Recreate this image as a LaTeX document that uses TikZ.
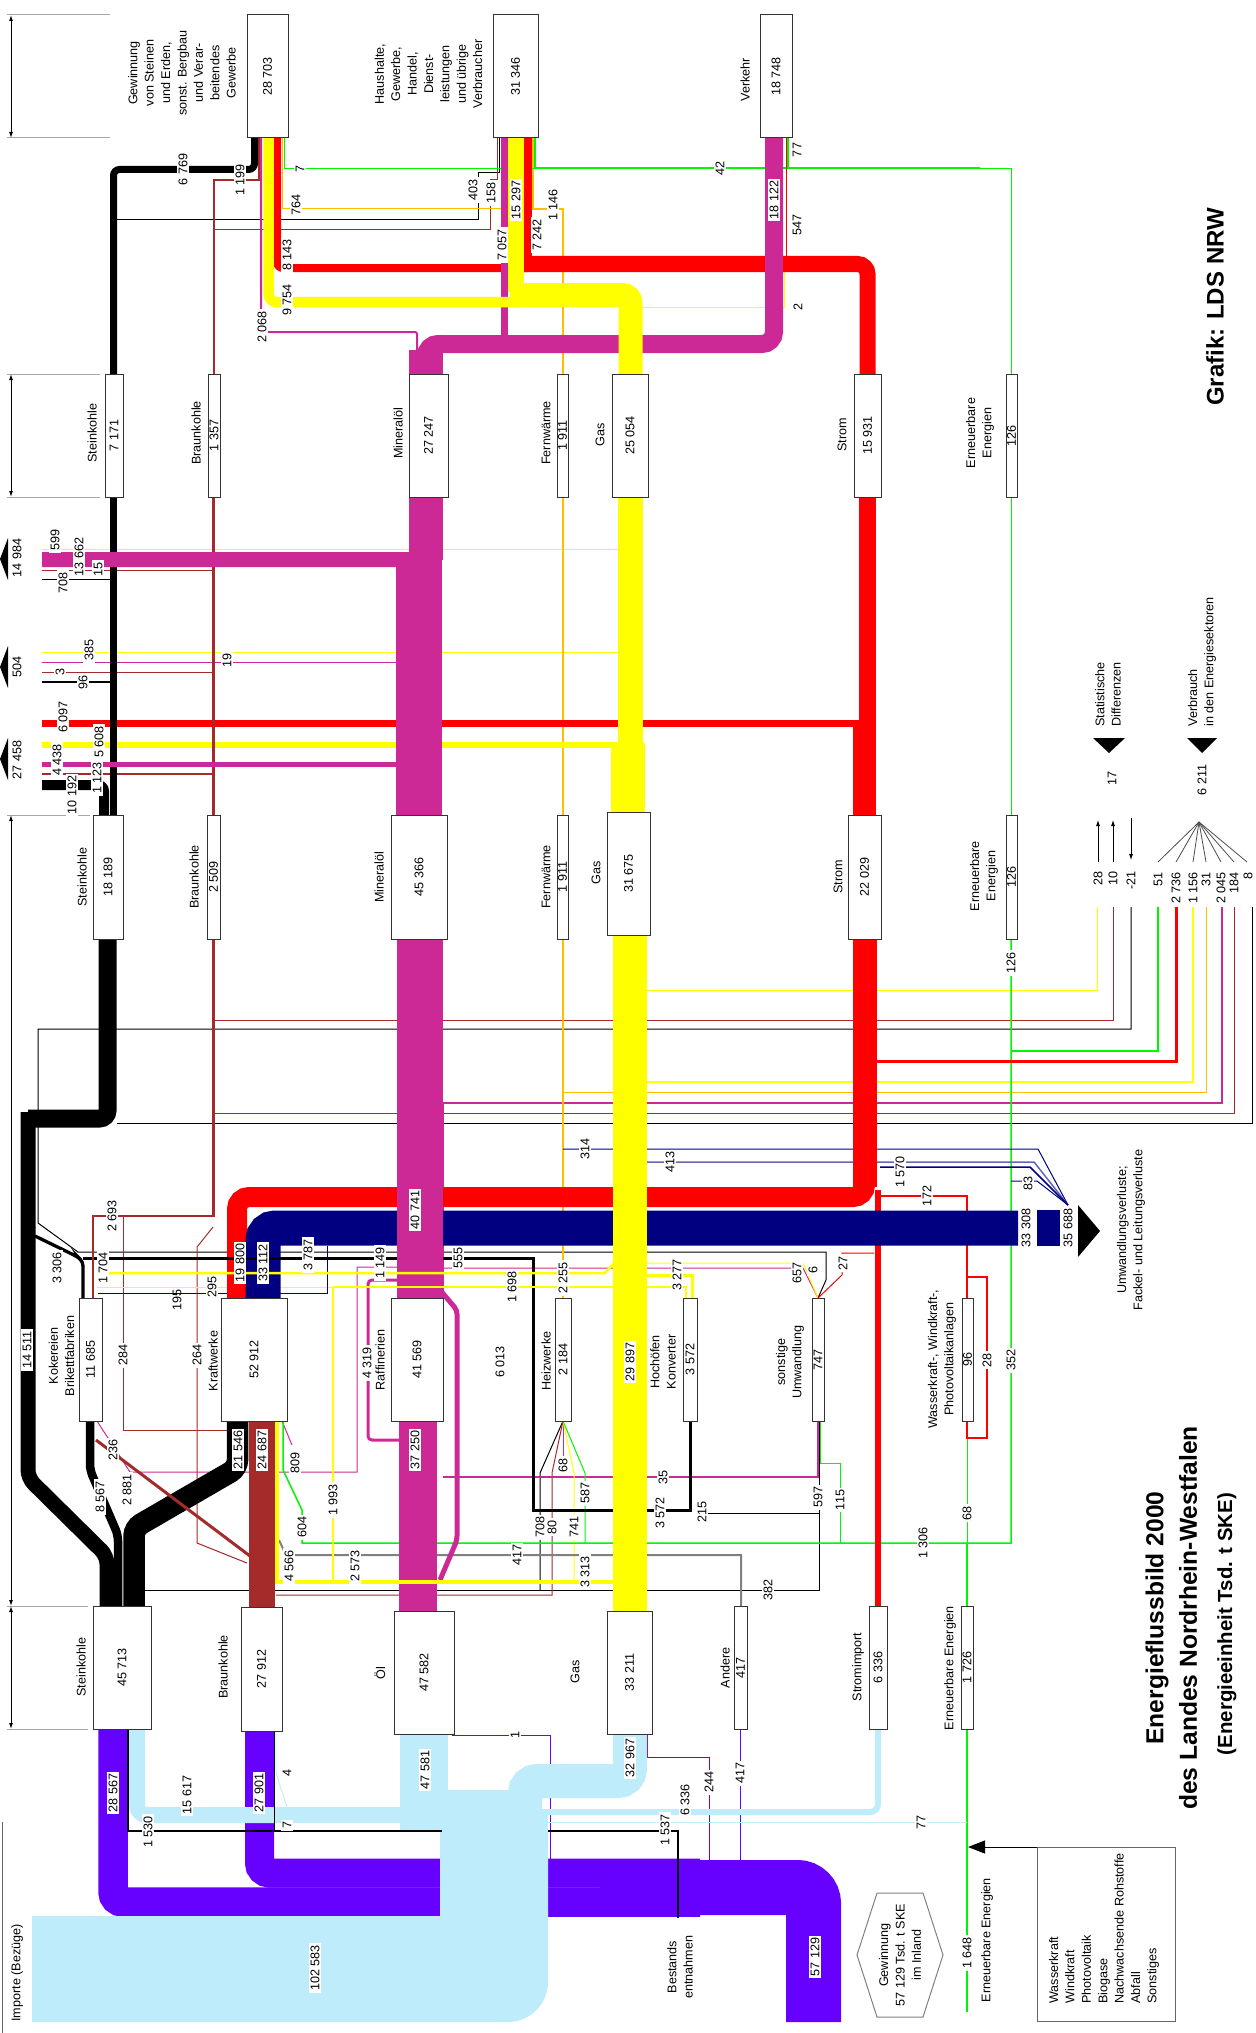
\documentclass[tikz,border=0pt]{standalone}
\usepackage{graphicx}
\usepackage{fontspec}
\setmainfont{Liberation Sans}
\usetikzlibrary{arrows.meta}

\definecolor{ckohle}{RGB}{0,0,0}
\definecolor{cbraun}{RGB}{165,42,42}
\definecolor{coel}{RGB}{204,41,150}
\definecolor{cgas}{RGB}{255,255,0}
\definecolor{cstrom}{RGB}{255,0,0}
\definecolor{cfw}{RGB}{255,190,0}
\definecolor{cee}{RGB}{0,245,0}
\definecolor{cverl}{RGB}{0,0,128}
\definecolor{cgew}{RGB}{102,0,255}
\definecolor{cimp}{RGB}{190,236,250}
\definecolor{candere}{RGB}{128,128,128}

\newcommand\lfont{\fontsize{6.3}{8.2}\selectfont}

\tikzset{
  wd/.style={line width=#1*0.5pt},
  kohle/.style={draw=ckohle},
  braun/.style={draw=cbraun},
  oel/.style={draw=coel},
  gas/.style={draw=cgas},
  strom/.style={draw=cstrom},
  fw/.style={draw=cfw},
  ee/.style={draw=cee},
  verl/.style={draw=cverl},
  gew/.style={draw=cgew},
  imp/.style={draw=cimp},
  andere/.style={draw=candere},
  dim/.style={draw=black!35, line width=0.5pt},
  box/.style 2 args={draw=black!80, fill=white, line width=0.5pt,
    minimum width=#1*0.5pt, minimum height=#2*0.5pt, inner sep=0pt, font=\lfont},
  lab/.style={rotate=90, inner sep=0.5pt, font=\lfont},
  val/.style={lab, fill=white, inner sep=1pt},
}

\begin{document}
\begin{tikzpicture}[x=0.5pt, y=-0.5pt, >={Latex[length=3pt,width=2pt]}]
\useasboundingbox (0,0) rectangle (1255,2033);

% duenne Linien
\draw[kohle, wd=1] (42,579) -- (113,579);
\draw[kohle, wd=2] (42,682) -- (113,682);
\draw[kohle, wd=1] (499,138) |- (478,173) |- (117,220);
\draw[kohle, wd=1] (1131,907) |- (38,1029) -- (38,1223) -- (78,1252) -- (826,1252) -- (826,1280) -- (818,1298);
\draw[kohle, wd=1] (1252,907) |- (117,1123);
\draw[kohle, wd=1] (697,1513) -- (819,1513);
\draw[kohle, wd=1] (145,1590) -- (819,1590) -- (819,1421);
\draw[kohle, wd=1] (563,1421) -- (540,1473) -- (540,1590);
\draw[braun, wd=1.5] (214,374) |- (259,180) -- (259,138);
\draw[braun, wd=1] (215,230) -- (490,230) |- (497,180) -- (497,138);
\draw[braun, wd=1] (42,570) -- (213,570);
\draw[braun, wd=1] (42,672) -- (213,672);
\draw[braun, wd=1.5] (42,774) -- (213,774);
\draw[braun, wd=1] (1113,907) |- (213,1020);
\draw[braun, wd=1] (1234,907) |- (213,1113);
\draw[braun, wd=1] (123,1216) |- (227,1430) -- (227,1421);
\draw[braun, wd=1] (213,1227) -- (197,1247) -- (197,1543) -- (247,1563);
\draw[braun, wd=1] (563,1421) -- (552,1473) |- (276,1595);
\draw[oel, wd=1] (42,662) -- (400,662);
\draw[oel, wd=1.5] (1222,907) |- (443,1103) -- (443,1298);
\draw[oel, wd=1] (97,1421) -- (130,1472) -- (357,1472) |- (397,1267);
\draw[oel, wd=1] (282,1421) -- (292,1445);
\draw[oel, wd=1.2] (443,1477) -| (818,1421);
\draw[oel, wd=1] (443,1268) -- (803,1268) -- (818,1298);
\draw[oel, wd=1] (563,1421) -- (563,1473);
\draw[gas, wd=1] (42,549) -- (618,549);
\draw[gas, wd=1] (42,652) -- (618,652);
\draw[gas, wd=1] (784,258) |- (643,307);
\draw[gas, wd=1] (1097,907) |- (647,990);
\draw[gas, wd=1.2] (1193,907) |- (647,1082);
\draw[gas, wd=1] (97,1287) -- (333,1287);
\draw[gas, wd=1] (647,1263) -- (803,1263) -- (818,1298);
\draw[gas, wd=1] (563,1421) -- (574,1473) -- (574,1582);
\draw[fw, wd=1] (282,138) |- (533,209);
\draw[fw, wd=1.2] (533,138) |- (563,209) -- (563,374);
\draw[fw, wd=1.5] (563,815) -- (563,497);
\draw[fw, wd=1.5] (563,939) -- (563,1298);
\draw[fw, wd=1] (1206,907) |- (563,1092);
\draw[ee, wd=1] (284,138) |- (535,168.5);
\draw[ee, wd=2] (535,138) |- (980,168.5);
\draw[ee, wd=1.5] (788,138) -- (788,168);
\draw[ee, wd=1] (980,168.5) -| (1011,374);
\draw[ee, wd=1] (1011,815) -- (1011,497);
\draw[ee, wd=1.5] (1011,939) |- (302,1543) -- (302,1510) -- (283,1470) -- (283,1421);
\draw[ee, wd=1.5] (1158,907) |- (1011,1051);
\draw[ee, wd=1] (967,1421) -- (967,1543);
\draw[ee, wd=2] (967,1606) -- (967,1543);
\draw[ee, wd=2] (967,1729) -- (967,2012);
\draw[ee, wd=1] (820,1421) |- (840,1463) -- (840,1543);
\draw[ee, wd=1] (563,1421) -- (585,1473) -- (585,1543);
\draw[verl, wd=1] (563,1149) -- (1038,1149) -- (1068,1205);
\draw[draw=cverl!60, wd=1.5] (647,1162) -- (1034,1162) -- (1068,1205);
\draw[verl, wd=1.5] (880,1167) -- (1030,1167) -- (1068,1205);
\draw[verl, wd=1] (1011,1181) -- (1037,1181) -- (1068,1205);
\draw[verl, wd=1] (98,1293) -| (327,1246);
\draw[andere, wd=2] (279,1540) -- (286,1555) -| (741,1606);
\draw[gew, wd=1.2] (740.5,1729) -- (740.5,1860);
\draw[gew, wd=1] (647,1734) |- (709,1757) -- (709,1860);
\draw[gew, wd=1] (452,1735) -| (550,1860);
\draw[imp, wd=1] (548,1822) -- (967,1822);
\draw[imp, wd=0.8] (276,1731) -- (276,1773) -- (287,1807);
\draw[strom, wd=1] (786,138) -- (786,258);
\draw[strom, wd=3] (1176,907) |- (877,1061);
\draw[strom, wd=1.2] (880,1196) -| (967,1298);
\draw[strom, wd=1.2] (967,1277) -| (987,1438) -| (967,1421);
\draw[strom, wd=1] (818,1298) -- (842,1275) |- (874,1253);

% Gewinnung und Importe
\draw[gew, wd=29.5, rounded corners=5pt] (113,1729) |- (700,1902);
\draw[gew, wd=29, rounded corners=5pt] (259.5,1731) |- (700,1873);
\draw[gew, wd=55, rounded corners=8pt] (600,1887.5) -| (813.5,2022);
\draw[imp, wd=16, rounded corners=5pt] (137,1729) |- (430,1815);
\fill[cimp] (400,1734) rectangle (448,1830);
\draw[imp, wd=34, rounded corners=6pt] (630,1734) |- (525,1781) -- (525,1870);
\fill[cimp] (440,1790) rectangle (520,1930);
\fill[cimp] (32,1916) rectangle (500,2022);
\fill[cimp, rounded corners=20pt] (460,1809) rectangle (548,2022);
\fill[cimp] (500,1809) rectangle (548,1880);
\draw[imp, wd=6, rounded corners=4pt] (878,1729) |- (540,1812);

% Strom
\draw[strom, wd=8, rounded corners=3pt] (277,138) |- (528,268);
\draw[strom, wd=8] (528,138) -- (528,264);
\draw[strom, wd=16, rounded corners=5pt] (520,264) -| (867.5,374);
\draw[strom, wd=17] (867.5,815) -- (867.5,497);
\draw[strom, wd=7] (42,723.5) -- (860,723.5);
\draw[strom, wd=23] (864.5,727) -- (864.5,815);
\draw[strom, wd=20, rounded corners=6pt] (237,1298) |- (865,1197) -- (865,939);
\draw[strom, wd=24] (865,939) -- (865,1187);
\draw[strom, wd=6] (878,1190) -- (878,1606);
\draw[gas, wd=5.6] (42,745) -- (620,745);

% Verluste
\draw[verl, wd=35, rounded corners=6pt] (263,1298) |- (1018,1228);
\fill[cverl] (1037,1210) rectangle (1060,1246);
\fill (1078,1205) -- (1100,1231) -- (1078,1257) -- cycle;

% Kohle
\draw[kohle, wd=7, rounded corners=3pt] (113.5,374) |- (254.5,169.5) -- (254.5,138);
\draw[kohle, wd=7] (113.5,815) -- (113.5,497);
\draw[kohle, wd=10, rounded corners=3pt] (42,785) -| (104,815);
\draw[kohle, wd=18, rounded corners=4pt] (107.5,939) |- (28,1118.5);
\draw[kohle, wd=15, rounded corners=4pt] (28,1112) -- (28,1478) -- (107,1556) -- (107,1606);
\draw[kohle, wd=3.3, rounded corners=2pt] (35,1236) -- (78,1257) -- (83,1262) -- (83,1298);
\draw[kohle, wd=3] (83,1258) -- (533,1258) |- (690,1510) -- (690,1421);
\draw[kohle, wd=8.5, rounded corners=3pt] (90,1421) -- (90,1470) -- (118,1535) -- (118,1606);
\draw[kohle, wd=21.5, rounded corners=4pt] (237.5,1421) -- (237.5,1468) -- (134,1528) -- (134,1606);
\draw[kohle, wd=1.5] (128,1729) |- (442,1831);
\draw[kohle, wd=1.5] (548,1831) -| (678,1918);
\draw[kohle, wd=1] (274,1731) -- (274,1831);

% Braunkohle
\draw[braun, wd=2.5] (213.5,815) -- (213.5,497);
\draw[braun, wd=2.7] (213.5,939) |- (93,1216) -- (93,1298);
\draw[braun, wd=26] (262,1421) -- (262,1607);
\draw[braun, wd=3] (96,1440) -- (250,1556);

% Mineraloel
\fill[coel] (409,497) rectangle (443,560);
\draw[oel, wd=15, rounded corners=4pt] (42,559.5) -| (415,600);
\fill[coel] (396,560) rectangle (442,815);
\fill[coel] (42,762) rectangle (400,767);
\fill[coel] (409,350) rectangle (443,374);
\draw[oel, wd=18, rounded corners=6pt] (426,374) |- (774,344) -- (774,138);
\draw[oel, wd=7] (504.5,138) -- (504.5,344);
\draw[oel, wd=2, rounded corners=1pt] (261,138) |- (417,332) -- (417,350);
\fill[coel] (397,939) rectangle (443,1298);
\fill[coel] (399,1421) rectangle (437,1611);
\draw[oel, wd=3, rounded corners=2pt] (397,1280) -| (368,1440) -- (399,1440);
\draw[oel, wd=5, rounded corners=2pt] (440,1290) -- (457,1310) -- (457,1540) -- (440,1580);

% Gas
\draw[gas, wd=10.5, rounded corners=4pt] (268.5,138) |- (520,302);
\draw[gas, wd=16] (516,138) -- (516,292);
\draw[gas, wd=24, rounded corners=4pt] (510,295) -| (630.5,374);
\draw[gas, wd=25] (630.5,497) -- (630.5,750);
\draw[gas, wd=34] (628,743) -- (628,812);
\draw[gas, wd=34] (630,935) -- (630,1611);
\draw[gas, wd=2.5] (97,1273) -- (605,1273) -- (615,1262);
\draw[gas, wd=2.5] (333,1287) -- (686,1287) -- (686,1298);
\draw[gas, wd=3] (647,1275) -| (692,1298);
\draw[gas, wd=2] (333,1287) -- (333,1582);
\draw[gas, wd=4.5] (277,1421) |- (615,1582);

% Exporte, Statistik
\fill (0,559) -- (8,538) -- (8,580) -- cycle;
\fill (0,667) -- (8,646) -- (8,688) -- cycle;
\fill (0,759) -- (8,738) -- (8,780) -- cycle;
\fill (1093,738) -- (1125,738) -- (1109,753) -- cycle;
\fill (1187,738) -- (1217,738) -- (1202,753) -- cycle;
\draw[->, wd=0.8] (1098,862) -- (1098,820);
\draw[->, wd=0.8] (1113,862) -- (1113,820);
\draw[->, wd=0.8] (1131,818) -- (1131,860);
\draw[black!70, wd=0.8] (1199,822) -- (1158,862);
\draw[black!70, wd=0.8] (1199,822) -- (1176,862);
\draw[black!70, wd=0.8] (1199,822) -- (1193,862);
\draw[black!70, wd=0.8] (1199,822) -- (1206,862);
\draw[black!70, wd=0.8] (1199,822) -- (1221,862);
\draw[black!70, wd=0.8] (1199,822) -- (1234,862);
\draw[black!70, wd=0.8] (1199,822) -- (1247,862);

% Massstab links
\draw[dim] (7,15) -- (110,15);
\draw[dim] (7,138) -- (110,138);
\draw[dim] (7,374) -- (100,374);
\draw[dim] (7,497) -- (100,497);
\draw[dim] (7,815) -- (90,815);
\draw[dim] (7,1606) -- (88,1606);
\draw[dim] (7,1729) -- (88,1729);
\draw[<->, wd=1] (11,15) -- (11,138);
\draw[<->, wd=1] (11,374) -- (11,497);
\draw[<->, wd=1] (11,815) -- (11,1606);
\draw[<->, wd=1] (11,1606) -- (11,1729);
\draw[black!60, wd=1] (2,1822) -- (2,2033);

% Legende
\draw[black!50, wd=1] (857,1955) -- (877,1893) -- (923,1893) -- (943,1955) -- (923,2017) -- (877,2017) -- cycle;
\draw[black!60, wd=1] (1037,1847) rectangle (1175,2021);
\draw[-{Triangle[length=8.5pt,width=6.5pt]}, wd=1] (1037,1847) -- (968,1847);

% Bilanzkaesten
\node[box={41}{123}] (ind) at (267.5,76.5) {\rotatebox{90}{28 703}};
\node[box={45}{123}] (hh) at (515.5,76.5) {\rotatebox{90}{31 346}};
\node[box={32}{123}] (ver) at (776,76.5) {\rotatebox{90}{18 748}};
\node[box={18}{123}] (st1) at (114,435.5) {\rotatebox{90}{7 171}};
\node[box={12}{123}] (bk1) at (214,435.5) {\rotatebox{90}{1 357}};
\node[box={39}{123}] (mo1) at (428.5,435.5) {\rotatebox{90}{27 247}};
\node[box={11}{123}] (fw1) at (562.5,435.5) {\rotatebox{90}{1 911}};
\node[box={36}{123}] (gas1) at (630,435.5) {\rotatebox{90}{25 054}};
\node[box={27}{123}] (str1) at (867.5,435.5) {\rotatebox{90}{15 931}};
\node[box={11}{123}] (ee1) at (1011.5,435.5) {\rotatebox{90}{126}};
\node[box={30}{124}] (st2) at (108,877) {\rotatebox{90}{18 189}};
\node[box={13}{124}] (bk2) at (213.5,877) {\rotatebox{90}{2 509}};
\node[box={56}{124}] (mo2) at (419,877) {\rotatebox{90}{45 366}};
\node[box={11}{124}] (fw2) at (562.5,877) {\rotatebox{90}{1 911}};
\node[box={43}{123}] (gas2) at (628.5,873.5) {\rotatebox{90}{31 675}};
\node[box={33}{124}] (str2) at (864.5,877) {\rotatebox{90}{22 029}};
\node[box={11}{124}] (ee2) at (1011.5,877) {\rotatebox{90}{126}};
\node[box={23}{123}] (kok) at (90.5,1359.5) {\rotatebox{90}{11 685}};
\node[box={66}{123}] (kw) at (254,1359.5) {\rotatebox{90}{52 912}};
\node[box={52}{123}] (raf) at (417,1359.5) {\rotatebox{90}{41 569}};
\node[box={16}{123}] (hzw) at (563,1359.5) {\rotatebox{90}{2 184}};
\node[box={14}{123}] (hoch) at (690,1359.5) {\rotatebox{90}{3 572}};
\node[box={12}{123}] (sonst) at (818,1359.5) {\rotatebox{90}{747}};
\node[box={11}{123}] (wkw) at (967.5,1359.5) {\rotatebox{90}{96}};
\node[box={58}{123}] (st3) at (122,1667.5) {\rotatebox{90}{45 713}};
\node[box={41}{124}] (bk3) at (261.5,1669) {\rotatebox{90}{27 912}};
\node[box={60}{123}] (oel3) at (424,1672.5) {\rotatebox{90}{47 582}};
\node[box={45}{123}] (gas3) at (629.5,1672.5) {\rotatebox{90}{33 211}};
\node[box={13}{123}] (and3) at (740.5,1667.5) {\rotatebox{90}{417}};
\node[box={18}{123}] (simp) at (878,1667.5) {\rotatebox{90}{6 336}};
\node[box={12}{123}] (ee3) at (967,1667.5) {\rotatebox{90}{1 726}};

% Beschriftung der Kaesten
\node[lab, align=center] (tInd) at (182,73) {Gewinnung\\von Steinen\\und Erden,\\sonst. Bergbau\\und Verar-\\beitendes\\Gewerbe};
\node[lab, align=center] (tHh) at (428.5,74) {Haushalte,\\Gewerbe,\\Handel,\\Dienst-\\leistungen\\und übrige\\Verbraucher};
\node[lab] (tVer) at (745,80) {Verkehr};
\node[lab] (tSt1) at (92,433) {Steinkohle};
\node[lab] (tBk1) at (196,433) {Braunkohle};
\node[lab] (tMo1) at (398,433) {Mineralöl};
\node[lab] (tFw1) at (546,433) {Fernwärme};
\node[lab] (tGas1) at (600,435) {Gas};
\node[lab] (tStr1) at (842,435) {Strom};
\node[lab, align=center] (tEe1) at (980,433) {Erneuerbare\\Energien};
\node[lab] (tSt2) at (82,877) {Steinkohle};
\node[lab] (tBk2) at (194,877) {Braunkohle};
\node[lab] (tMo2) at (379,877) {Mineralöl};
\node[lab] (tFw2) at (546,877) {Fernwärme};
\node[lab] (tGas2) at (596,873) {Gas};
\node[lab] (tStr2) at (838,877) {Strom};
\node[lab, align=center] (tEe2) at (984,876) {Erneuerbare\\Energien};
\node[lab, align=center] (tKok) at (61.5,1356) {Kokereien\\Brikettfabriken};
\node[lab] (tKw) at (213,1361) {Kraftwerke};
\node[lab] (tRaf) at (380,1360) {Raffinerien};
\node[lab] (tHzw) at (546,1361) {Heizwerke};
\node[lab, align=center] (tHoch) at (663,1362) {Hochöfen\\Konverter};
\node[lab, align=center] (tSonst) at (790,1362) {sonstige\\Umwandlung};
\node[lab, align=center] (tWkw) at (942,1359) {Wasserkraft-, Windkraft-,\\Photovoltaikanlagen};
\node[lab] (tSt3) at (81,1667) {Steinkohle};
\node[lab] (tBk3) at (223,1667) {Braunkohle};
\node[lab] (tOel3) at (380,1673) {Öl};
\node[lab] (tGas3) at (575,1672) {Gas};
\node[lab] (tAnd3) at (725,1668) {Andere};
\node[lab] (tSimp) at (858,1667) {Stromimport};
\node[lab] (tEe3) at (950,1668) {Erneuerbare Energien};
\node[lab, anchor=west, align=left] (tStat) at (1108,728) {Statistische\\Differenzen};
\node[lab, anchor=west, align=left] (tVerb) at (1202,728) {Verbrauch\\in den Energiesektoren};
\node[lab, align=center] (tVerl) at (1131,1230) {Umwandlungsverluste;\\Fackel- und Leitungsverluste};
\node[lab] (tImp) at (17,1973) {Importe (Bezüge)};
\node[lab, align=center] (tBest) at (680,1967) {Bestands\\entnahmen};
\node[lab] (tEe4) at (987,1940) {Erneuerbare Energien};
\node[lab, align=center] (tGew) at (900,1955) {Gewinnung\\57 129 Tsd. t SKE\\im Inland};
\node[lab, anchor=west, align=left] (tListe) at (1104,2005) {Wasserkraft\\Windkraft\\Photovoltaik\\Biogase\\Nachwachsende Rohstoffe\\Abfall\\Sonstiges};
\node[rotate=90, font=\fontsize{12.3}{14}\selectfont\bfseries] (title1) at (1157,1618) {Energieflussbild 2000};
\node[rotate=90, font=\fontsize{12.3}{14}\selectfont\bfseries] (title2) at (1188,1618) {des Landes Nordrhein-Westfalen};
\node[rotate=90, font=\fontsize{10.2}{12}\selectfont\bfseries] (title3) at (1227,1624) {(Energieeinheit Tsd. t SKE)};
\node[rotate=90, font=\fontsize{12}{14}\selectfont\bfseries] (grafik) at (1215,307) {Grafik: LDS NRW};

% Werte oben
\node[val] (l6769) at (183,169.5) {6 769};
\node[val] (l1199) at (240,180) {1 199};
\node[val] (l7a) at (300,168.5) {7};
\node[val] (l764) at (296,205) {764};
\node[val] (l8143) at (287,255) {8 143};
\node[val] (l9754) at (287,300) {9 754};
\node[val] (l2068) at (262,327) {2 068};
\node[val] (l403) at (473,190) {403};
\node[val] (l158) at (491,193) {158};
\node[val] (l15297) at (516,200) {15 297};
\node[val] (l7057) at (502,245) {7 057};
\node[val] (l7242) at (537,235) {7 242};
\node[val] (l1146) at (553,205) {1 146};
\node[val] (l42) at (720,168.5) {42};
\node[val] (l18122) at (774,200) {18 122};
\node[val] (l77a) at (797,150) {77};
\node[val] (l547) at (797,225) {547};
\node[val] (l2) at (798,307) {2};

% Exporte
\node[lab] (e14984) at (17,558) {14 984};
\node[lab] (e504) at (17,667) {504};
\node[lab] (e27458) at (17,760) {27 458};
\node[val] (l599) at (55,540) {599};
\node[val] (l708a) at (63,583) {708};
\node[val] (l13662) at (79,557) {13 662};
\node[val] (l15) at (98,569) {15};
\node[val] (l385) at (89,650) {385};
\node[val] (l19) at (227,660) {19};
\node[val] (l3) at (60,672) {3};
\node[val] (l96) at (83,682) {96};
\node[val] (l6097) at (63,717) {6 097};
\node[val] (l5608) at (99,742) {5 608};
\node[val] (l4438) at (57,760) {4 438};
\node[val] (l1123) at (97,778) {1 123};
\node[val] (l10192) at (72,795) {10 192};

% Statistik
\node[val] (l126) at (1011,963) {126};
\node[lab] (s17) at (1112,778) {17};
\node[lab] (s6211) at (1202,780) {6 211};
\node[lab, anchor=east] (s28) at (1098,870) {28};
\node[lab, anchor=east] (s10) at (1113,870) {10};
\node[lab, anchor=east] (s21) at (1131,870) {-21};
\node[lab, anchor=east] (s51) at (1158,871) {51};
\node[lab, anchor=east] (s2736) at (1176,871) {2 736};
\node[lab, anchor=east] (s1156) at (1193,871) {1 156};
\node[lab, anchor=east] (s31) at (1206,871) {31};
\node[lab, anchor=east] (s2045) at (1221,871) {2 045};
\node[lab, anchor=east] (s184) at (1234,871) {184};
\node[lab, anchor=east] (s8) at (1248,871) {8};

% Werte Umwandlung
\node[val] (l14511) at (27,1350) {14 511};
\node[val] (l3306) at (57,1268) {3 306};
\node[val] (l1704) at (103,1268) {1 704};
\node[val] (l2693) at (112,1216) {2 693};
\node[val] (l19800) at (240,1263) {19 800};
\node[val] (l33112) at (263,1263) {33 112};
\node[val] (l3787) at (308,1255) {3 787};
\node[val] (l1149) at (380,1263) {1 149};
\node[val] (l295) at (212,1287) {295};
\node[lab] (l195) at (177,1300) {195};
\node[val] (l284) at (123,1355) {284};
\node[val] (l264) at (197,1355) {264};
\node[val] (l4319) at (367,1363) {4 319};
\node[val] (l40741) at (415,1210) {40 741};
\node[val] (l555) at (458,1258) {555};
\node[val] (l1698) at (512,1287) {1 698};
\node[val] (l2255) at (563,1278) {2 255};
\node[val] (l3277) at (677,1275) {3 277};
\node[lab] (l6013) at (500,1362) {6 013};
\node[val] (l29897) at (630,1362) {29 897};
\node[val] (l314) at (585,1149) {314};
\node[val] (l413) at (670,1162) {413};
\node[val] (l1570) at (900,1172) {1 570};
\node[val] (l172) at (927,1196) {172};
\node[val] (l83) at (1028,1183) {83};
\node[val] (l33308) at (1026,1228) {33 308};
\node[val] (l35688) at (1068,1228) {35 688};
\node[val] (l657) at (797,1273) {657};
\node[val] (l6) at (813,1270) {6};
\node[val] (l27) at (843,1263) {27};
\node[val] (l28) at (987,1360) {28};
\node[val] (l352) at (1011,1360) {352};
\node[val] (l21546) at (238,1450) {21 546};
\node[val] (l24687) at (262,1450) {24 687};
\node[val] (l236) at (113,1450) {236};
\node[val] (l8567) at (100,1497) {8 567};
\node[val] (l2881) at (127,1490) {2 881};
\node[val] (l809) at (295,1463) {809};
\node[val] (l37250) at (415,1450) {37 250};
\node[val] (l1993) at (333,1500) {1 993};
\node[val] (l604) at (302,1527) {604};
\node[val] (l4566) at (289,1566) {4 566};
\node[val] (l2573) at (355,1566) {2 573};
\node[val] (l417a) at (517,1555) {417};
\node[val] (l708b) at (540,1527) {708};
\node[val] (l80) at (552,1527) {80};
\node[val] (l741) at (574,1527) {741};
\node[val] (l68a) at (563,1465) {68};
\node[val] (l587) at (585,1493) {587};
\node[val] (l35) at (663,1477) {35};
\node[val] (l3572) at (660,1513) {3 572};
\node[val] (l215) at (702,1512) {215};
\node[val] (l597) at (818,1497) {597};
\node[val] (l115) at (840,1500) {115};
\node[val] (l68b) at (967,1513) {68};
\node[val] (l1306) at (923,1543) {1 306};
\node[val] (l3313) at (585,1572) {3 313};
\node[val] (l382) at (768,1590) {382};

% Werte Aufkommen
\node[val] (l28567) at (113,1793) {28 567};
\node[val] (l15617) at (187,1795) {15 617};
\node[val] (l1530) at (148,1832) {1 530};
\node[val] (l27901) at (259,1793) {27 901};
\node[val] (l4) at (287,1773) {4};
\node[val] (l7b) at (287,1825) {7};
\node[val] (l47581) at (425,1770) {47 581};
\node[val] (l1) at (515,1735) {1};
\node[val] (l32967) at (630,1758) {32 967};
\node[val] (l6336) at (685,1800) {6 336};
\node[val] (l244) at (709,1782) {244};
\node[val] (l417b) at (740,1773) {417};
\node[val] (l1537) at (665,1830) {1 537};
\node[val] (l77b) at (921,1822) {77};
\node[val] (l57129) at (815,1957) {57 129};
\node[val] (l102583) at (315,1968) {102 583};
\node[val] (l1648) at (967,1953) {1 648};
\end{tikzpicture}
\end{document}
